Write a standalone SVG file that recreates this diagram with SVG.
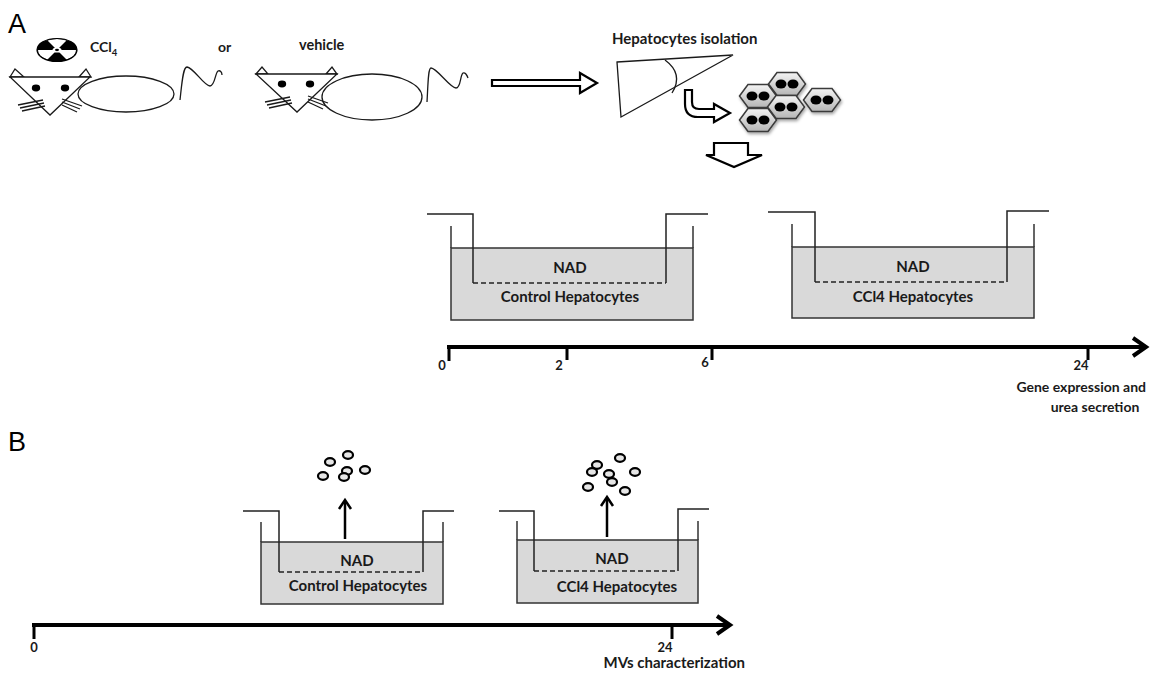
<svg xmlns="http://www.w3.org/2000/svg" xmlns:xlink="http://www.w3.org/1999/xlink" width="1166" height="676" viewBox="0 0 1166 676">
  <style>
    .lbl { font-family: "Lato", "Liberation Sans", sans-serif; font-weight: 700; fill: #1a1a1a; }
    .panel { font-family: "Liberation Sans", Arial, sans-serif; font-size: 27px; fill: #000; }
    .thin { fill: none; stroke: #1a1a1a; stroke-width: 1.3; }
    .fillw { fill: #fff; stroke: #1a1a1a; stroke-width: 1.3; }
    .media { fill: #d9d9d9; stroke: #333; stroke-width: 1.5; }
    .wall { fill: none; stroke: #333; stroke-width: 1.5; }
    .insert { fill: none; stroke: #222; stroke-width: 1.5; }
    .dash { fill: none; stroke: #222; stroke-width: 1.5; stroke-dasharray: 5 3; }
    .axis { fill: none; stroke: #000; stroke-width: 4; }
    .tick { fill: none; stroke: #000; stroke-width: 3; }
    .chev { fill: none; stroke: #000; stroke-width: 4; stroke-linejoin: miter; stroke-linecap: butt; }
    .hollow { fill: #fff; stroke: #000; stroke-width: 2.2; stroke-linejoin: miter; }
    .up { fill: none; stroke: #000; stroke-width: 2.5; }
    .ves { fill: #e6e6e6; stroke: #000; stroke-width: 2.2; }
  </style>
  <defs>
    <linearGradient id="cellFill" x1="0" y1="0" x2="0" y2="1">
      <stop offset="0" stop-color="#f4f4f4"/>
      <stop offset="1" stop-color="#b5b5b5"/>
    </linearGradient>
    <filter id="cellShadow" x="-30%" y="-30%" width="160%" height="170%">
      <feDropShadow dx="1" dy="2" stdDeviation="1.5" flood-color="#000" flood-opacity="0.35"/>
    </filter>
    <g id="cell">
      <polygon points="-18.5,0 -10,-11.5 10,-11.5 18.5,0 10,11.5 -10,11.5" fill="url(#cellFill)" stroke="#3a3a3a" stroke-width="1.5" filter="url(#cellShadow)"/>
      <ellipse cx="-6" cy="0" rx="5.5" ry="4.6" fill="#000"/>
      <ellipse cx="6" cy="0" rx="5.5" ry="4.6" fill="#000"/>
    </g>
  </defs>

  <rect width="1166" height="676" fill="#fff"/>

  <!-- panel A -->
  <text id="label-a" class="panel" x="8" y="33">A</text>

  <g id="rat-ccl4">
    <!-- radiation sign -->
    <ellipse cx="57" cy="50" rx="20" ry="11.5" fill="#000"/>
    <g transform="translate(57,50) scale(1,0.575)">
      <path d="M0,0 L-9.5,-16.5 A19,19 0 0 1 9.5,-16.5 Z" fill="#fff"/>
      <path d="M0,0 L19,0 A19,19 0 0 1 9.5,16.5 Z" fill="#fff"/>
      <path d="M0,0 L-9.5,16.5 A19,19 0 0 1 -19,0 Z" fill="#fff"/>
      <circle r="4.5" fill="#fff"/>
      <circle r="2" fill="#000"/>
    </g>
    <ellipse cx="57" cy="50" rx="20" ry="11.5" fill="none" stroke="#000" stroke-width="1.2"/>
    <text class="lbl" x="90" y="52" font-size="14">CCl<tspan font-size="9.5" dy="4">4</tspan></text>
    <!-- body, tail, head -->
    <ellipse class="fillw" cx="126" cy="94" rx="48" ry="18"/>
    <path class="thin" d="M180,100 C182,82 183,67 187,67 C194,68 204,86 210,86 C215,86 215,73 218,71 C220,70 222,72 222,75"/>
    <polygon class="fillw" points="10,77 15,69 24,77"/>
    <polygon class="fillw" points="79,77 86,69 91,77"/>
    <polygon class="fillw" points="10,77 90,77 50,115"/>
    <ellipse cx="36" cy="88" rx="4.2" ry="3.4" fill="#000"/>
    <ellipse cx="65" cy="88" rx="4.2" ry="3.4" fill="#000"/>
    <path class="thin" d="M18,105 L43,100 M20,108 L44,103 M22,111 L45,106"/>
    <path class="thin" d="M62,99 L82,106 M62,102 L80,109 M62,105 L77,112"/>
  </g>

  <text class="lbl" x="218" y="52" font-size="14">or</text>

  <g id="rat-vehicle">
    <text class="lbl" x="299" y="50" font-size="14.5">vehicle</text>
    <ellipse class="fillw" cx="372" cy="97" rx="50" ry="23"/>
    <path class="thin" d="M427,102 C428,86 428,68 431,68 C437,68 450,88 456,88 C461,88 460,75 463,73 C465,72 467,75 468,78"/>
    <polygon class="fillw" points="256,74 262,67 268,74"/>
    <polygon class="fillw" points="326,74 332,67 337,74"/>
    <polygon class="fillw" points="256,74 337,74 297,112"/>
    <ellipse cx="282" cy="84" rx="4.2" ry="3.4" fill="#000"/>
    <ellipse cx="310" cy="84" rx="4.2" ry="3.4" fill="#000"/>
    <path class="thin" d="M265,102 L290,97 M267,105 L291,100 M269,108 L292,103"/>
    <path class="thin" d="M308,96 L328,103 M308,99 L326,106 M308,102 L323,109"/>
  </g>

  <g id="liver">
    <text class="lbl" x="612" y="44" font-size="15">Hepatocytes isolation</text>
    <polygon class="thin" points="617,62 733,55 621,117"/>
    <path class="thin" d="M665,60 Q684,74 672,93"/>
  </g>

  <g id="hepatocytes">
    <use xlink:href="#cell" x="787" y="84"/>
    <use xlink:href="#cell" x="822" y="100"/>
    <use xlink:href="#cell" x="758" y="96"/>
    <use xlink:href="#cell" x="786" y="107"/>
    <use xlink:href="#cell" x="758" y="120"/>
  </g>

  <g id="connectors">
    <!-- rats to isolation -->
    <polygon class="hollow" points="492,80 580,80 580,73 597,83 580,93 580,86 492,86"/>
    <!-- liver to cells -->
    <path class="hollow" d="M685,90 L685,104 Q685,117 698,117 L714,117 L714,122 L730,113 L714,104 L714,109 L699,109 Q692,109 692,102 L692,90 Z"/>
    <!-- cells to culture -->
    <polygon class="hollow" points="714,143 748,143 748,155 762,155 734,167 706,155 714,155"/>
    <!-- microvesicle release -->
    <path class="up" d="M345,539 V502"/>
    <path class="up" d="M339,509 L345,500 L351,509"/>
    <path class="up" d="M607,537 V499"/>
    <path class="up" d="M601,506 L607,497 L613,506"/>
  </g>

  <g id="well-a-control">
    <rect class="media" x="451" y="248" width="242" height="72"/>
    <path class="wall" d="M451,226 V248 M693,226 V248"/>
    <path class="insert" d="M427,214 H473 V283 M666,283 V214 H708"/>
    <path class="dash" d="M473,283 H666"/>
    <text class="lbl" x="570" y="273" font-size="15" text-anchor="middle">NAD</text>
    <text class="lbl" x="570" y="302" font-size="15" text-anchor="middle">Control Hepatocytes</text>
  </g>

  <g id="well-a-ccl4">
    <rect class="media" x="792" y="247" width="242" height="71"/>
    <path class="wall" d="M792,224 V247 M1034,224 V247"/>
    <path class="insert" d="M768,212 H815 V282 M1007,282 V211 H1049"/>
    <path class="dash" d="M815,282 H1007"/>
    <text class="lbl" x="913" y="272" font-size="15" text-anchor="middle">NAD</text>
    <text class="lbl" x="913" y="302" font-size="15" text-anchor="middle">CCl4 Hepatocytes</text>
  </g>

  <g id="timeline-a">
    <path class="axis" d="M447,347 H1144"/>
    <path class="tick" d="M449,346 V361 M567,347 V360 M712,347 V360 M1088,347 V360"/>
    <path class="chev" d="M1133,338 L1146,347 L1133,356"/>
    <text class="lbl" x="442" y="370" font-size="13" text-anchor="middle">0</text>
    <text class="lbl" x="559" y="370" font-size="13" text-anchor="middle">2</text>
    <text class="lbl" x="705" y="367" font-size="13" text-anchor="middle">6</text>
    <text class="lbl" x="1081" y="370" font-size="13" text-anchor="middle">24</text>
    <text class="lbl" x="1146" y="392" font-size="14" text-anchor="end">Gene expression and</text>
    <text class="lbl" x="1095" y="412" font-size="14" text-anchor="middle">urea secretion</text>
  </g>

  <!-- panel B -->
  <text id="label-b" class="panel" x="8" y="451">B</text>

  <g id="well-b-control">
    <rect class="media" x="261" y="542" width="182" height="62"/>
    <path class="wall" d="M261,522 V542 M443,522 V542"/>
    <path class="insert" d="M243,511 H279 V572 M423,572 V511 H454"/>
    <path class="dash" d="M279,572 H423"/>
    <text class="lbl" x="357" y="566" font-size="15" text-anchor="middle">NAD</text>
    <text class="lbl" x="358" y="591" font-size="15" text-anchor="middle">Control Hepatocytes</text>
    <ellipse class="ves" cx="348" cy="455" rx="5" ry="3.8"/>
    <ellipse class="ves" cx="330" cy="462" rx="5" ry="3.8"/>
    <ellipse class="ves" cx="365" cy="470" rx="5" ry="3.8"/>
    <ellipse class="ves" cx="347" cy="471" rx="5" ry="3.8"/>
    <ellipse class="ves" cx="323" cy="476" rx="5" ry="3.8"/>
    <ellipse class="ves" cx="344" cy="477" rx="5" ry="3.8"/>
  </g>

  <g id="well-b-ccl4">
    <rect class="media" x="517" y="540" width="181" height="63"/>
    <path class="wall" d="M517,521 V540 M698,521 V540"/>
    <path class="insert" d="M499,511 H534 V571 M678,571 V509 H709"/>
    <path class="dash" d="M534,571 H678"/>
    <text class="lbl" x="612" y="564" font-size="15" text-anchor="middle">NAD</text>
    <text class="lbl" x="617" y="592" font-size="15" text-anchor="middle">CCl4 Hepatocytes</text>
    <ellipse class="ves" cx="620" cy="458" rx="5" ry="3.8"/>
    <ellipse class="ves" cx="597" cy="465" rx="5" ry="3.8"/>
    <ellipse class="ves" cx="592" cy="472" rx="5" ry="3.8"/>
    <ellipse class="ves" cx="635" cy="472" rx="5" ry="3.8"/>
    <ellipse class="ves" cx="609" cy="474" rx="5" ry="3.8"/>
    <ellipse class="ves" cx="612" cy="482" rx="5" ry="3.8"/>
    <ellipse class="ves" cx="588" cy="487" rx="5" ry="3.8"/>
    <ellipse class="ves" cx="625" cy="491" rx="5" ry="3.8"/>
  </g>

  <g id="timeline-b">
    <path class="axis" d="M32,625 H728"/>
    <path class="tick" d="M34,624 V639 M672,625 V639"/>
    <path class="chev" d="M717,616 L730,625 L717,634"/>
    <text class="lbl" x="34" y="652" font-size="13" text-anchor="middle">0</text>
    <text class="lbl" x="665" y="652" font-size="13" text-anchor="middle">24</text>
    <text class="lbl" x="745" y="668" font-size="15" text-anchor="end">MVs characterization</text>
  </g>
</svg>
